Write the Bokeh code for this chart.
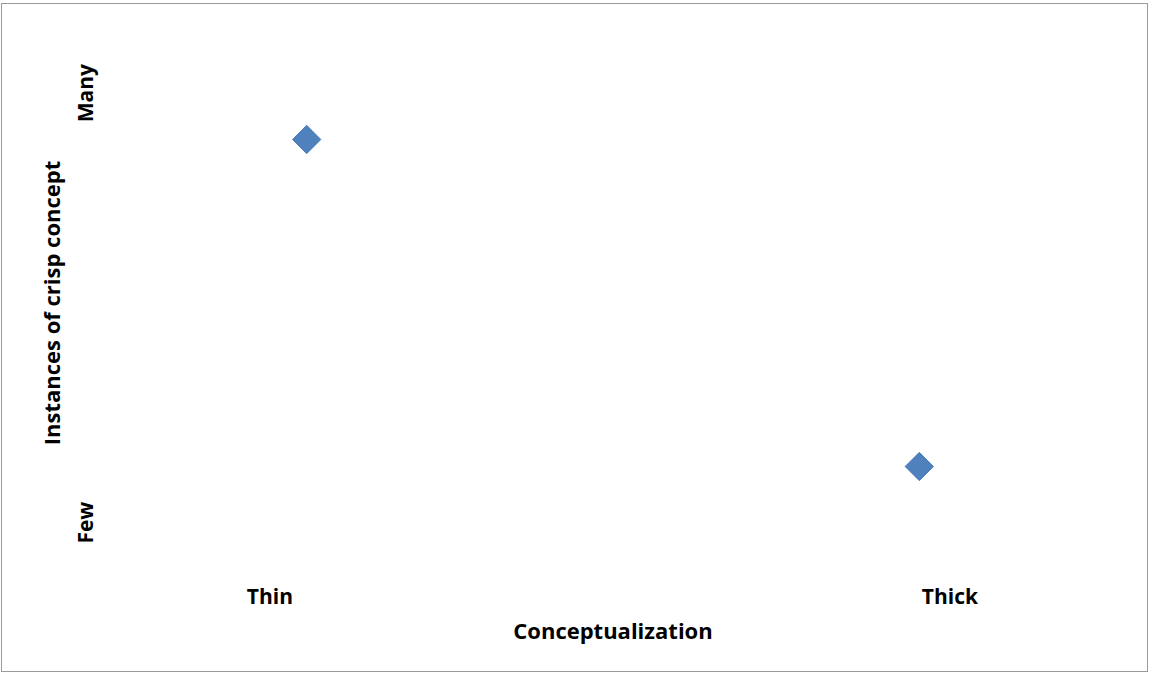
import math
from bokeh.plotting import figure
from bokeh.models import FixedTicker, Range1d
from bokeh.embed import file_html
from bokeh.resources import INLINE

# Data
conceptualization = [2.0, 8.0]
instances = [8.0, 2.0]
x_tick_pos = [1.64, 8.30]
x_tick_labels = ["Thin", "Thick"]
y_tick_pos = [0.97, 8.85]
y_tick_labels = ["Few", "Many"]

FONT = "Open Sans"

p = figure(width=1147, height=669, output_backend="svg", toolbar_location=None,
           x_range=Range1d(0, 10), y_range=Range1d(0, 10),
           min_border_left=100, min_border_right=26, min_border_top=26, min_border_bottom=98)
p.margin = (3, 0, 0, 1)
p.styles = {"border": "1px solid #9a9a9a"}

p.scatter(conceptualization, instances, marker="square", size=20, angle=math.pi / 4,
          fill_color="#4F81BD", line_color="#4A7EBB", line_width=1)

p.xgrid.visible = False
p.ygrid.visible = False
p.outline_line_color = None

for ax in (p.xaxis[0], p.yaxis[0]):
    ax.axis_line_color = None
    ax.major_tick_line_color = None
    ax.minor_tick_line_color = None
    ax.major_tick_out = 0
    ax.major_tick_in = 0
    ax.minor_tick_out = 0
    ax.major_label_text_font = FONT
    ax.major_label_text_font_style = "bold"
    ax.major_label_text_font_size = "21px"
    ax.major_label_text_color = "black"
    ax.axis_label_text_font = FONT
    ax.axis_label_text_font_style = "bold"
    ax.axis_label_text_font_size = "22px"
    ax.axis_label_text_color = "black"

p.xaxis.ticker = FixedTicker(ticks=x_tick_pos)
p.xaxis.major_label_overrides = {t: l for t, l in zip(x_tick_pos, x_tick_labels)}
p.yaxis.ticker = FixedTicker(ticks=y_tick_pos)
p.yaxis.major_label_overrides = {t: l for t, l in zip(y_tick_pos, y_tick_labels)}
p.yaxis.major_label_orientation = "vertical"

p.xaxis.axis_label = "Conceptualization"
p.yaxis.axis_label = "Instances of crisp concept"
p.xaxis.major_label_standoff = 6
p.xaxis.axis_label_standoff = 2
p.yaxis.major_label_standoff = 3
p.yaxis.axis_label_standoff = 3

open("out.html", "w").write(file_html(p, INLINE))
